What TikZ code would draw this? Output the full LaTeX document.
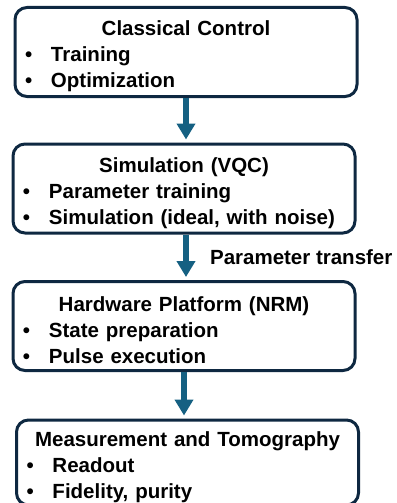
\documentclass[tikz,border=0pt]{standalone}
\usepackage{fontspec}
\setmainfont{Liberation Sans}
\usetikzlibrary{arrows.meta}
\definecolor{boxline}{HTML}{0E2841}
\definecolor{flowblue}{HTML}{156082}
\newcommand{\boxhead}[1]{{\centering\rule{0pt}{24pt}#1\par}}
\newcommand{\bitem}[1]{\noindent\makebox[26pt][l]{\textbullet}#1\par}

\begin{document}
\begin{tikzpicture}
  [x=1pt,y=-1pt,font=\fontsize{20.5}{26}\selectfont\bfseries]
      \tikzstyle{box_style} = [draw=boxline, line width=3pt, rounded corners=12pt, fill=white, minimum width=342pt, minimum height=89pt, text width=322pt, inner xsep=10pt, inner ysep=0pt]
      \tikzstyle{arrow_style} = [draw=flowblue, line width=5.5pt, -{Triangle[width=18pt,length=16pt]}, shorten >=3pt]
  \useasboundingbox (0,0) rectangle (396,503);
  \node[box_style] (ctrl) at (186,52) {\boxhead{Classical Control}\bitem{Training}\bitem{Optimization}};
  \node[box_style] (sim) at (184,188.5) {\boxhead{Simulation (VQC)}\bitem{Parameter training}\bitem{Simulation (ideal, with noise)}};
  \node[box_style] (hw) at (184,326) {\boxhead{Hardware Platform (NRM)}\bitem{State preparation}\bitem{Pulse execution}};
  \node[box_style, minimum height=85pt] (meas) at (187.5,462.5) {\boxhead{Measurement and Tomography}\bitem{Readout}\bitem{Fidelity, purity}};
  \draw[arrow_style] (ctrl.south) -- (ctrl.south |- sim.north);
  \draw[arrow_style] (ctrl.south |- sim.south) -- node[midway, right=18pt, text=black] (xfer) {Parameter transfer} (ctrl.south |- hw.north);
  \draw[arrow_style] (hw.south) -- (hw.south |- meas.north);
\end{tikzpicture}
\end{document}
